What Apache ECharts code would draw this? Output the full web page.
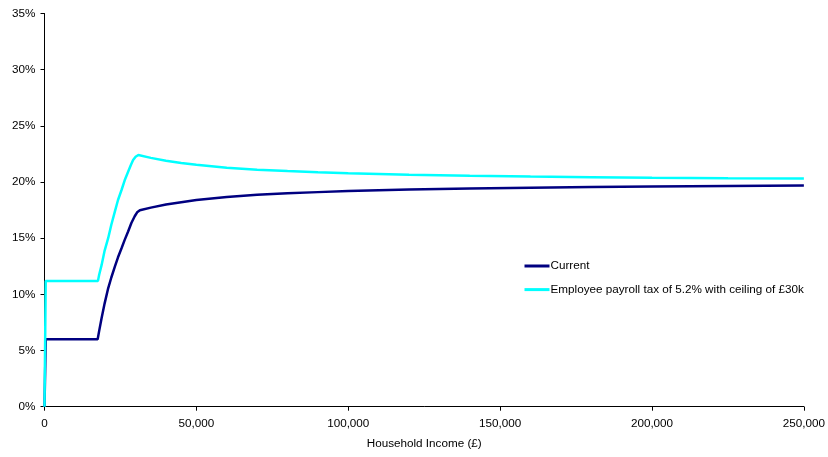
<!DOCTYPE html>
<html>
<head>
<meta charset="utf-8">
<script src="https://cdn.jsdelivr.net/npm/echarts@6/dist/echarts.min.js"></script>
<style>html,body{margin:0;padding:0;background:#fff}#c{width:828px;height:457px}</style>
</head>
<body>
<div id="c"></div>
<script>
var tailIncomes = [35000, 40000, 45000, 50000, 60000, 70000, 80000, 90000, 100000, 120000, 140000, 160000, 180000, 200000, 225000, 250000];
var currentIncomes = [0, 400, 17500, 18000, 18790, 19800, 20960, 22000, 23160, 24200, 25360, 26400, 27530, 28600, 29700, 30500, 31400].concat(tailIncomes);
var currentRates = [0, 6.0, 6.0, 6.75, 7.87, 9.2, 10.54, 11.5, 12.46, 13.3, 14.1, 14.85, 15.6, 16.35, 16.95, 17.3, 17.48,
  17.72, 18.0, 18.2, 18.4, 18.67, 18.86, 19.0, 19.1, 19.2, 19.33, 19.43, 19.5, 19.56, 19.6, 19.65, 19.68];
var payrollIncomes = [0, 400, 17600, 18000, 18790, 19800, 20960, 22000, 23160, 24200, 25360, 26400, 27530, 28400, 29170, 30000, 30900].concat(tailIncomes);
var payrollRates = [0, 11.2, 11.2, 11.75, 12.6, 13.9, 15.0, 16.2, 17.36, 18.4, 19.29, 20.15, 20.92, 21.5, 21.96, 22.25, 22.4,
  22.15, 21.9, 21.7, 21.53, 21.28, 21.1, 20.98, 20.87, 20.78, 20.64, 20.55, 20.48, 20.43, 20.38, 20.34, 20.31];
var seriesNames = ['Current', 'Employee payroll tax of 5.2% with ceiling of £30k'];
var xAxisTitle = 'Household Income (£)';

function pairs(xs, ys) { return xs.map(function (x, i) { return [x, ys[i]]; }); }

var chart = echarts.init(document.getElementById('c'), null, { renderer: 'canvas' });
var font = 'Liberation Sans, Arial, sans-serif';
var fs = 11.7;
chart.setOption({
  animation: false,
  backgroundColor: '#ffffff',
  textStyle: { fontFamily: font },
  grid: { left: 44.5, right: 22.5, top: 13.5, bottom: 50.3, containLabel: false },
  legend: {
    orient: 'vertical',
    left: 519.5,
    top: 255,
    itemWidth: 25,
    itemHeight: 10,
    itemGap: 11.6,
    icon: 'path://M0,3.5 L25,3.5 L25,6.5 L0,6.5 Z',
    textStyle: { fontFamily: font, fontSize: fs, color: '#000', padding: [0, 0, 0, -4] },
    data: seriesNames
  },
  xAxis: {
    type: 'value',
    min: 0, max: 250000, interval: 50000,
    name: xAxisTitle,
    nameLocation: 'middle',
    nameGap: 31,
    nameTextStyle: { fontFamily: font, fontSize: fs, color: '#000' },
    axisLine: { lineStyle: { color: '#000', width: 1 } },
    axisTick: { show: true, inside: false, length: 4, lineStyle: { color: '#000' } },
    axisLabel: {
      fontFamily: font, fontSize: fs, color: '#000', margin: 11,
      formatter: function (v) { return v.toString().replace(/\B(?=(\d{3})+(?!\d))/g, ','); }
    },
    splitLine: { show: false }
  },
  yAxis: {
    type: 'value',
    min: 0, max: 35, interval: 5,
    axisLine: { show: true, lineStyle: { color: '#000', width: 1 } },
    axisTick: { show: true, inside: false, length: 4, lineStyle: { color: '#000' } },
    axisLabel: { fontFamily: font, fontSize: fs, color: '#000', margin: 9, formatter: '{value}%' },
    splitLine: { show: false }
  },
  series: [
    {
      name: seriesNames[0], type: 'line', symbol: 'none', smooth: false,
      color: '#000080',
      lineStyle: { color: '#000080', width: 2.5 },
      data: pairs(currentIncomes, currentRates)
    },
    {
      name: seriesNames[1], type: 'line', symbol: 'none', smooth: false,
      color: '#00FFFF',
      lineStyle: { color: '#00FFFF', width: 2.5 },
      data: pairs(payrollIncomes, payrollRates)
    }
  ]
});
</script>
</body>
</html>
